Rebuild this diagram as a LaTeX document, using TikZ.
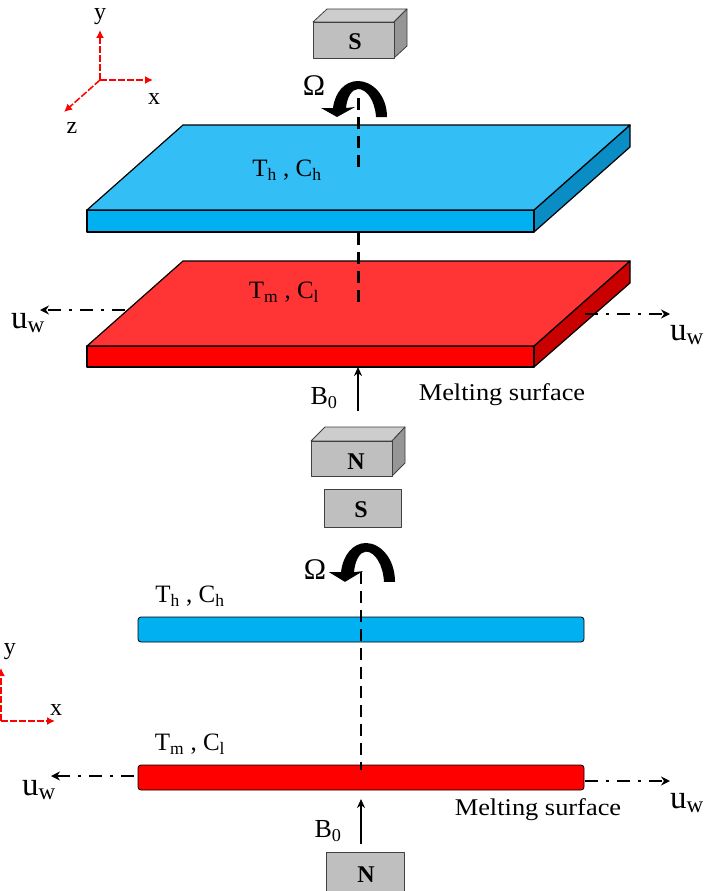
\documentclass[tikz,border=0pt]{standalone}
\usepackage{fontspec}
\setmainfont{Liberation Serif}
\newfontfamily\widefont[FakeStretch=1.1]{Liberation Serif}
\usepackage{tikz}
\usetikzlibrary{positioning, arrows.meta}
\definecolor{bluetop}{HTML}{33BEF5}
\definecolor{bluefront}{HTML}{00B0F0}
\definecolor{blueside}{HTML}{0A8CC4}
\definecolor{redtop}{HTML}{FF3535}
\definecolor{redfront}{HTML}{FF0000}
\definecolor{redside}{HTML}{C80000}
\definecolor{magfront}{HTML}{BFBFBF}
\definecolor{magtop}{HTML}{CDCDCD}
\definecolor{magside}{HTML}{969696}
\tikzset{
  slab/.style={draw=black, line width=1.2pt, line join=round},
  magnet/.style={draw=black!75, line width=0.8pt, line join=round},
  magnetflat/.style={magnet, fill=magfront, inner sep=0pt},
  magnettext/.style={font=\bfseries\fontsize{24}{24}\selectfont, inner sep=0pt},
  bar/.style={draw=black, line width=0.8pt, rounded corners=3pt, inner sep=0pt, minimum width=446pt, minimum height=25pt},
  axis/.style={red, line width=1.5pt, dash pattern=on 7pt off 2pt, -{Latex[length=8pt, width=8pt]}},
  axislabel/.style={font=\fontsize{24}{24}\selectfont, inner sep=0pt},
  spin/.style={black, line width=3pt, dash pattern=on 12pt off 7pt},
  spinthin/.style={spin, line width=2.5pt},
  stretch/.style={black, line width=2pt, dash pattern=on 13pt off 8pt on 3pt off 8pt, -{Stealth[length=9pt, width=9pt]}},
  field/.style={black, line width=2pt, -{Stealth[length=9pt, width=8pt]}},
  lbl/.style={font=\fontsize{25}{25}\selectfont, inner sep=0pt},
  lblu/.style={font=\fontsize{33}{33}\selectfont, inner sep=0pt},
  lblb/.style={font=\fontsize{26}{26}\selectfont, inner sep=0pt},
  lblmelt/.style={font=\widefont\fontsize{24}{24}\selectfont, inner sep=0pt},
  lblomega/.style={font=\fontsize{30}{30}\selectfont, inner sep=0pt},
}
\newcommand{\spinarrow}[3]{%
  \fill[black, shift={(#1,#2)}, yscale=#3] (18,36) -- (29,36) .. controls (29,14) and (14,0) .. (0,0)
    .. controls (-13,0) and (-23,11) .. (-25,27) -- (-37,27) -- (-21,36) -- (-3,26) -- (-12,27)
    .. controls (-11,16) and (-6,8) .. (0,8) .. controls (9,8) and (17,20) .. (18,36) -- cycle;}
\begin{document}
\begin{tikzpicture}[x=1pt, y=-1pt]
  \useasboundingbox (0,0) rectangle (705,891);
  % Define nodes
  % top view, magnet S
  \fill[white] (0,0) rectangle (705,891);
  \draw[magnet, fill=magtop] (313,22) -- (327,9) -- (407,9) -- (394,22) -- cycle;
  \draw[magnet, fill=magside] (394,22) -- (407,9) -- (407,46) -- (394,58) -- cycle;
  \node[magnetflat, minimum width=81pt, minimum height=36pt] (magS) at (353.5,40) {};
  \node[magnettext] (magSText) at (355,42) {S};

  % axes
  \coordinate (origin) at (100,80);
  \coordinate (yEnd) at (100,30);
  \coordinate (xEnd) at (153,80);
  \coordinate (zEnd) at (64,112);
  \node[axislabel] (yLabel) at (100,17) {y};
  \node[axislabel] (xLabel) at (154,99) {x};
  \node[axislabel] (zLabel) at (72,128) {z};

  % blue plate
  \draw[slab, fill=blueside] (534,210) -- (630,125) -- (630,147) -- (534,232) -- cycle;
  \draw[slab, fill=bluefront] (87,210) rectangle (534,232);
  \draw[slab, fill=bluetop] (183,125) -- (630,125) -- (534,210) -- (87,210) -- cycle;
  \node[lbl] (blueText) at (287,170) {T\textsubscript{h} , C\textsubscript{h}};

  % red plate
  \draw[slab, fill=redside] (534,346) -- (630,261) -- (630,283) -- (534,367) -- cycle;
  \draw[slab, fill=redfront] (87,346) rectangle (534,367);
  \draw[slab, fill=redtop] (183,261) -- (630,261) -- (534,346) -- (87,346) -- cycle;
  \node[lbl] (redText) at (284,292) {T\textsubscript{m} , C\textsubscript{l}};

  % spin
  \spinarrow{358}{81}{1}
  \node[lblomega] (omegaA) at (314,86) {Ω};
  \coordinate (spinA1) at (358,98);
  \coordinate (spinA2) at (358,170);
  \coordinate (spinA3) at (358,233);
  \coordinate (spinA4) at (358,304);

  % stretching
  \coordinate (leftA1) at (125,310);
  \coordinate (leftA2) at (40,310);
  \coordinate (rightA1) at (585,314);
  \coordinate (rightA2) at (670,314);
  \node[lblu] (uwA) at (28,323) {u\textsubscript{w}};
  \node[lblu] (uwB) at (687,335) {u\textsubscript{w}};

  % field and lower magnets
  \draw[magnet, fill=magtop] (311,441) -- (325,427) -- (405,427) -- (392,441) -- cycle;
  \draw[magnet, fill=magside] (392,441) -- (405,427) -- (405,463) -- (392,476) -- cycle;
  \node[magnetflat, minimum width=81pt, minimum height=35pt] (magN) at (351.5,458.5) {};
  \node[magnettext] (magNText) at (356,462) {N};
  \coordinate (fieldA1) at (358,411);
  \coordinate (fieldA2) at (358,367);
  \node[lblb] (bzeroA) at (324,398) {B\textsubscript{0}};
  \node[lblmelt] (meltA) at (502,395) {Melting surface};

  % front view
  \node[magnetflat, minimum width=77pt, minimum height=38pt] (magSb) at (362.5,508) {};
  \node[magnettext] (magSbText) at (361,510) {S};
  \spinarrow{366}{543}{1.08}
  \node[lblomega] (omegaB) at (315,570) {Ω};
  \node[lbl] (blueTextB) at (190,596) {T\textsubscript{h} , C\textsubscript{h}};
  \node[bar, fill=bluefront] (blueBar) at (361,629.5) {};
  \node[lbl] (redTextB) at (190,744) {T\textsubscript{m} , C\textsubscript{l}};
  \node[bar, fill=redfront] (redBar) at (361,777.5) {};
  \coordinate (spinB1) at (361,572);
  \coordinate (spinB2) at (361,770);

  \coordinate (originB) at (1,721);
  \coordinate (yEndB) at (1,668);
  \coordinate (xEndB) at (55,721);
  \node[axislabel] (yLabelB) at (10,652) {y};
  \node[axislabel] (xLabelB) at (56,710) {x};

  \coordinate (leftB1) at (134,776);
  \coordinate (leftB2) at (51,776);
  \coordinate (rightB1) at (585,781);
  \coordinate (rightB2) at (670,781);
  \node[lblu] (uwC) at (39,790) {u\textsubscript{w}};
  \node[lblu] (uwD) at (687,803) {u\textsubscript{w}};

  \coordinate (fieldB1) at (361,844);
  \coordinate (fieldB2) at (361,799);
  \node[lblb] (bzeroB) at (328,831) {B\textsubscript{0}};
  \node[lblmelt] (meltB) at (538,810) {Melting surface};
  \node[magnetflat, minimum width=78pt, minimum height=40pt, anchor=north] (magNb) at (365,852) {};
  \node[magnettext] (magNbText) at (366,875) {N};

  % Connect the nodes
  \draw[axis] (origin) -- (yEnd);
  \draw[axis] (origin) -- (xEnd);
  \draw[axis] (origin) -- (zEnd);
  \draw[axis] (originB) -- (yEndB);
  \draw[axis] (originB) -- (xEndB);
  \draw[spin] (spinA1) -- (spinA2);
  \draw[spin] (spinA3) -- (spinA4);
  \draw[spinthin] (spinB1) -- (spinB2);
  \draw[stretch] (leftA1) -- (leftA2);
  \draw[stretch] (rightA1) -- (rightA2);
  \draw[stretch] (leftB1) -- (leftB2);
  \draw[stretch] (rightB1) -- (rightB2);
  \draw[field] (fieldA1) -- (fieldA2);
  \draw[field] (fieldB1) -- (fieldB2);
\end{tikzpicture}
\end{document}
